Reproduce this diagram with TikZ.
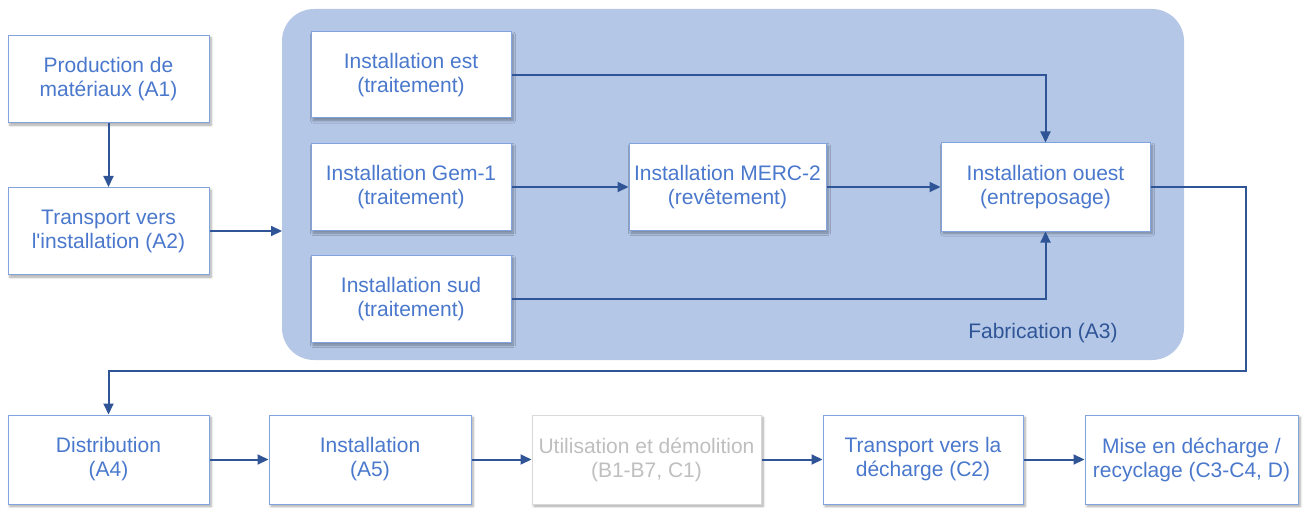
\documentclass[tikz,border=0pt]{standalone}
\usepackage{fontspec}
\setmainfont{Liberation Sans}
\usepackage{tikz}
\usetikzlibrary{arrows.meta,shadows.blur}
\definecolor{textbleu}{HTML}{4A78CC}
\definecolor{bordbleu}{HTML}{82A3DE}
\definecolor{fondbleu}{HTML}{B4C7E7}
\definecolor{flechebleu}{HTML}{2F5597}
\definecolor{grisbord}{HTML}{D9D9D9}
\definecolor{gristexte}{HTML}{BFBFBF}
\newcommand{\flcol}{flechebleu}

\begin{document}
\begin{tikzpicture}[x=1pt, y=-1pt,
    boite/.style={draw=bordbleu, line width=1pt, fill=white, text=textbleu,
        align=center, inner sep=0pt, minimum height=87pt,
        font=\fontsize{21}{24}\selectfont,
        blur shadow={shadow xshift=2pt, shadow yshift=-2.5pt, shadow blur steps=6, shadow blur radius=2.5pt, shadow opacity=35}},
    grise/.style={boite, draw=grisbord, text=gristexte},
    fleche/.style={draw=\flcol, line width=2pt, -{Triangle[length=11pt,width=10pt]}}]

        \useasboundingbox (0, 0) rectangle (1307, 508);

        % zone fabrication
        \fill[fondbleu, rounded corners=32pt] (282, 9) rectangle (1184, 360);
        \node[text=flechebleu, font=\fontsize{21}{24}\selectfont] (fab) at (1043, 333) {Fabrication (A3)};

        % etapes du haut
        \node[boite, minimum width=201pt] (a1) at (108.5, 79) {Production de\\mat\'eriaux (A1)};
        \node[boite, minimum width=201pt] (a2) at (108.5, 231) {Transport vers\\l\textquotesingle installation (A2)};
        \coordinate (entree) at (282, 231);

        \node[boite, minimum width=200pt, minimum height=86pt] (est) at (411, 75) {Installation est\\(traitement)};
        \node[boite, minimum width=200pt] (gem) at (411, 187) {Installation Gem-1\\(traitement)};
        \node[boite, minimum width=200pt] (sud) at (411, 299) {Installation sud\\(traitement)};
        \node[boite, minimum width=197pt] (merc) at (727.5, 187) {Installation MERC-2\\(rev\^etement)};
        \node[boite, minimum width=209pt, minimum height=88pt] (ouest) at (1045.5, 187) {Installation ouest\\(entreposage)};

        % etapes du bas
        \node[boite, minimum width=201pt, minimum height=89pt] (a4) at (108.5, 459.5) {Distribution\\(A4)};
        \node[boite, minimum width=202pt, minimum height=89pt] (a5) at (370, 459.5) {Installation\\(A5)};
        \node[grise, minimum width=229pt, minimum height=89pt] (b1) at (646.5, 459.5) {Utilisation et d\'emolition\\(B1-B7, C1)};
        \node[boite, minimum width=200pt, minimum height=89pt] (c2) at (923, 459.5) {Transport vers la\\d\'echarge (C2)};
        \node[boite, minimum width=213pt, minimum height=89pt] (c3) at (1191.5, 459.5) {Mise en d\'echarge /\\recyclage (C3-C4, D)};

        % fleches
        \draw[fleche] (a1) -- (a2);
        \draw[fleche] (a2.east) -- (entree);
        \draw[fleche] (est.east) -| (ouest.north);
        \draw[fleche] (gem) -- (merc);
        \draw[fleche] (merc) -- (ouest);
        \draw[fleche] (sud.east) -| (ouest.south);
        \draw[fleche] (ouest.east) -- (1246, 187) -- (1246, 371) -| (a4.north);
        \draw[fleche] (a4) -- (a5);
        \draw[fleche] (a5) -- (b1);
        \draw[fleche] (b1) -- (c2);
        \draw[fleche] (c2) -- (c3);

  \end{tikzpicture}
\end{document}
